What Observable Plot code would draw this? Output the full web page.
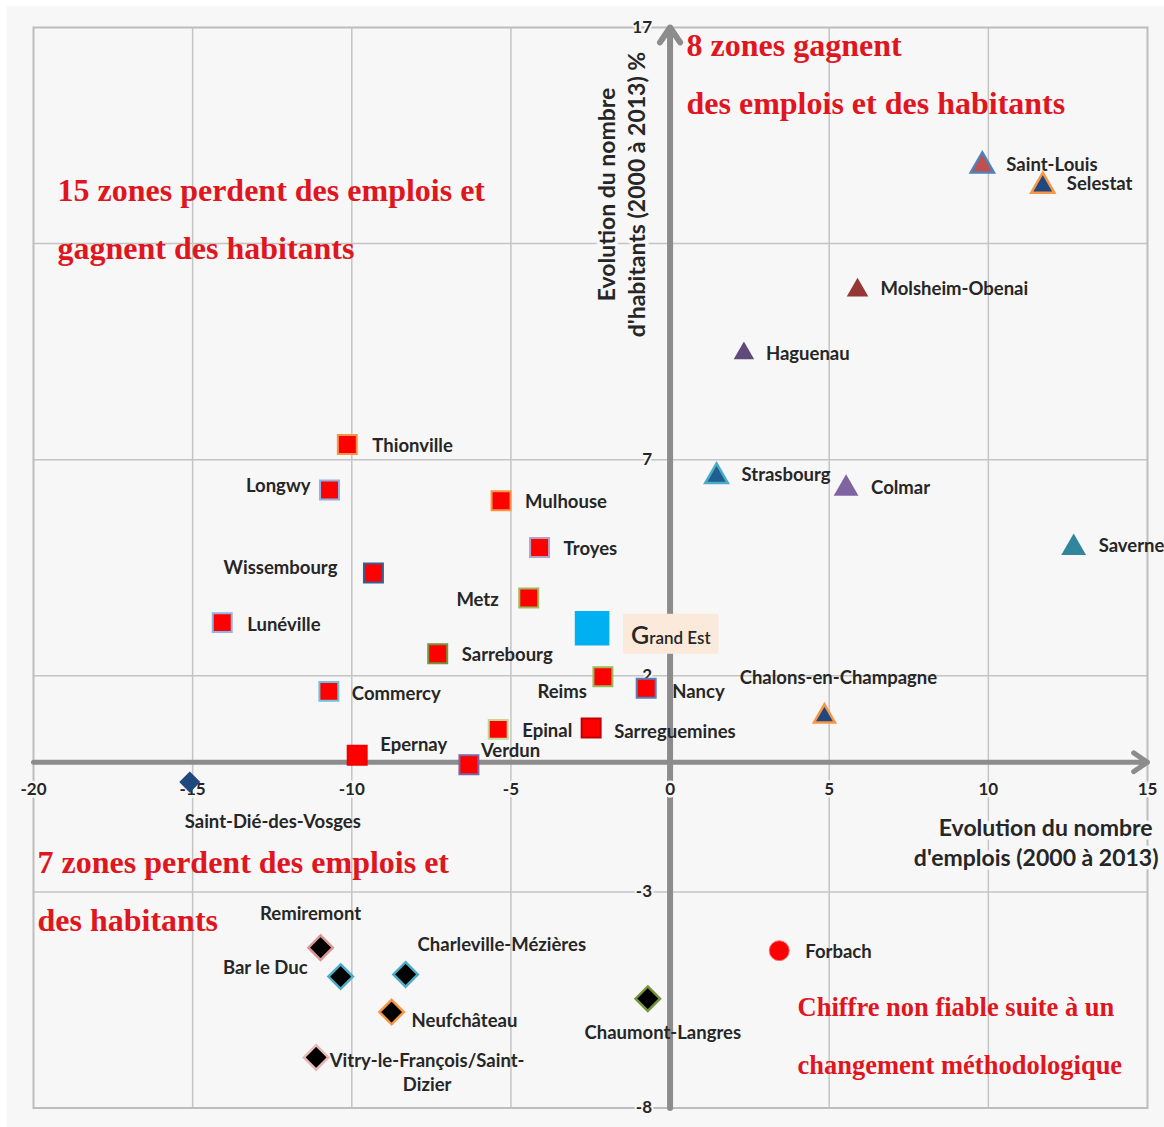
<!DOCTYPE html>
<html>
<head>
<meta charset="utf-8">
<script src="https://cdn.jsdelivr.net/npm/d3@7"></script>
<script src="https://cdn.jsdelivr.net/npm/@observablehq/plot@0.6"></script>
<style>
html, body { margin: 0; padding: 0; background: #ffffff; overflow: hidden; }
#wrap { position: relative; width: 1164px; height: 1127px; }
#panel { position: absolute; left: 7px; top: 6px; right: 0; bottom: 0; background: #f7f7f7; }
#chart { position: absolute; left: 0; top: 0; }
</style>
</head>
<body>
<div id="wrap"><div id="panel"></div><div id="chart"></div></div>
<script>
// ---------- DATA ----------
const zones = ["Saint-Louis", "Selestat", "Molsheim-Obenai", "Haguenau", "Strasbourg", "Colmar", "Saverne",
  "Chalons-en-Champagne", "Thionville", "Longwy", "Mulhouse", "Troyes", "Wissembourg", "Metz", "Lunéville",
  "Grand Est", "Sarrebourg", "Reims", "Nancy", "Commercy", "Epinal", "Sarreguemines", "Epernay", "Verdun",
  "Saint-Dié-des-Vosges", "Remiremont", "Bar le Duc", "Charleville-Mézières", "Neufchâteau",
  "Vitry-le-François/Saint-Dizier", "Chaumont-Langres", "Forbach"];
// Evolution du nombre d'emplois (2000 à 2013), %
const emplois = [9.81, 11.71, 5.89, 2.32, 1.46, 5.53, 12.68,
  4.85, -10.14, -10.70, -5.31, -4.10, -9.32, -4.44, -14.07,
  -2.45, -7.30, -2.11, -0.75, -10.72, -5.40, -2.48, -9.83, -6.32,
  -15.09, -10.98, -10.35, -8.31, -8.75,
  -11.12, -0.70, 3.43];
// Evolution du nombre d'habitants (2000 à 2013), %
const habitants = [13.80, 13.33, 10.92, 9.46, 6.61, 6.33, 4.96,
  1.06, 7.35, 6.30, 6.05, 4.97, 4.38, 3.80, 3.23,
  3.10, 2.51, 1.98, 1.71, 1.64, 0.76, 0.79, 0.16, -0.06,
  -0.46, -4.29, -4.96, -4.91, -5.78,
  -6.83, -5.47, -4.36];

const xDomain = [-20, 15];
const yDomain = [-8, 17];
const xTicks = [-20, -15, -10, -5, 0, 5, 10, 15];
const yTicks = [17, 7, 2, -3, -8];
const xGrid = [-15, -10, -5, 5, 10];
const yGrid = [12, 7, 2, -3];

const yTitle = "Evolution du nombre\nd'habitants (2000 à 2013) %";
const xTitle1 = "Evolution du nombre";
const xTitle2 = "d'emplois (2000 à 2013)";
const notes = [
  "8 zones gagnent", "des emplois et des habitants",
  "15 zones perdent des emplois et", "gagnent des habitants",
  "7 zones perdent des emplois et", "des habitants",
  "Chiffre non fiable suite à un", "changement méthodologique"
];

// ---------- STYLES (marker look and label placement) ----------
const RED = "#ff0000";
const sq = (stroke, lab) => ({symbol: "square", r: 10.7, fill: RED, stroke, sw: 2, lab});
const tri = (fill, stroke, r, lab) => ({symbol: "triangle", r, fill, stroke, sw: stroke ? 2.5 : 0, lab});
const dia = (stroke, lab) => ({symbol: "diamond2", r: 11, fill: "#000000", stroke, sw: 2.5, lab});
const styles = {
  "Saint-Louis": tri("#c0504d", "#4f81bd", 8.6, [24, -2, "start"]),
  "Selestat": tri("#1f497d", "#f79646", 8.6, [24, -3.5, "start"]),
  "Molsheim-Obenai": tri("#953735", null, 8, [23, -3, "start"]),
  "Haguenau": tri("#604a7b", null, 7.6, [22, -1, "start"]),
  "Strasbourg": tri("#1f5f8f", "#4bacc6", 8.4, [25, -3, "start"]),
  "Colmar": tri("#8064a2", null, 9.2, [25, -2.5, "start"]),
  "Saverne": tri("#31859c", null, 9.2, [25, -3, "start"]),
  "Chalons-en-Champagne": tri("#1f497d", "#f79646", 7.8, [14, -40, "middle"]),
  "Thionville": sq("#f79646", [25, 0, "start"]),
  "Longwy": sq("#8eb4e3", [-19, -5, "end"]),
  "Mulhouse": sq("#f79646", [24, 0, "start"]),
  "Troyes": sq("#b3a2c7", [24, 0, "start"]),
  "Wissembourg": sq("#376092", [-36, -6, "end"]),
  "Metz": sq("#9bbb59", [-30, 0, "end"]),
  "Lunéville": sq("#8eb4e3", [25, 1, "start"]),
  "Grand Est": {symbol: "square", r: 19.5, fill: "#00b0f0", stroke: null, sw: 0, lab: [39, 8, "start"]},
  "Sarrebourg": sq("#77933c", [24, 0, "start"]),
  "Reims": sq("#9bbb59", [-16, 14, "end"]),
  "Nancy": sq("#4f81bd", [26, 2, "start"]),
  "Commercy": sq("#6cc3e0", [23, 1, "start"]),
  "Epinal": sq("#c3d69b", [24, 0, "start"]),
  "Sarreguemines": sq("#c00000", [23, 2, "start"]),
  "Epernay": sq("#f00000", [23, -12, "start"]),
  "Verdun": sq("#8064a2", [12, -15, "start"]),
  "Saint-Dié-des-Vosges": {symbol: "diamond2", r: 9.5, fill: "#1f497d", stroke: null, sw: 0, lab: [83, 38, "middle"]},
  "Remiremont": dia("#d99694", [-10, -35, "middle"]),
  "Bar le Duc": dia("#4bacc6", [-33, -10, "end"]),
  "Charleville-Mézières": dia("#4bacc6", [12, -31, "start"]),
  "Neufchâteau": dia("#f79646", [20, 7, "start"]),
  "Vitry-le-François/Saint-Dizier": {...dia("#e6b9b8", [111, 14, "middle"]), text: "Vitry-le-François/Saint-\nDizier"},
  "Chaumont-Langres": dia("#77933c", [15, 33, "middle"]),
  "Forbach": {symbol: "circle", r: 10, fill: RED, stroke: "#ff7070", sw: 1, lab: [26, 0, "start"]}
};

const table = zones.map((z, i) => ({zone: z, x: emplois[i], y: habitants[i]}));

const M = {left: 33, top: 27, right: 17, bottom: 19.5};
const SANS = "Lato, 'Open Sans', sans-serif";
const SERIF = "'Liberation Serif', 'Times New Roman', serif";
const BG = "#f7f7f7";
const AXIS = "#8c8c8c";
const TXT = "#262626";
const NOTE = "#e0161e";
const LABEL_SIZE = 18.5;

const marks = [
  Plot.gridX(xGrid, {stroke: "#c4c4c4", strokeOpacity: 1, strokeWidth: 1.5}),
  Plot.gridY(yGrid, {stroke: "#c4c4c4", strokeOpacity: 1, strokeWidth: 1.5}),
  Plot.frame({stroke: "#bdbdbd", strokeWidth: 2}),
  // axes with arrows
  Plot.arrow([{}], {x1: () => xDomain[0], x2: () => xDomain[1], y1: () => 0, y2: () => 0,
    stroke: AXIS, strokeWidth: 5, headLength: 5, headAngle: 68}),
  Plot.arrow([{}], {x1: () => 0, x2: () => 0, y1: () => yDomain[0], y2: () => yDomain[1],
    stroke: AXIS, strokeWidth: 6, headLength: 4.5, headAngle: 68}),
  // tick labels
  Plot.text(xTicks, {x: d => d, y: () => 0, text: d => String(d), dy: 27,
    fontFamily: SANS, fontWeight: "bold", fontSize: 17, fill: TXT, stroke: BG, strokeWidth: 5}),
  Plot.text(yTicks, {x: () => 0, y: d => d, text: d => String(d), dx: -18, textAnchor: "end",
    fontFamily: SANS, fontWeight: "bold", fontSize: 17, fill: TXT, stroke: BG, strokeWidth: 4}),
  // axis titles
  Plot.text([yTitle], {frameAnchor: "top-left", dx: 620 - M.left, dy: 194 - M.top, rotate: -90,
    textAnchor: "middle", lineAnchor: "middle", lineHeight: 1.3,
    fontFamily: SANS, fontWeight: "bold", fontSize: 23, fill: TXT, stroke: BG, strokeWidth: 7}),
  Plot.text([xTitle1], {frameAnchor: "top-left", dx: 1152 - M.left, dy: 828 - M.top, textAnchor: "end",
    lineAnchor: "middle", fontFamily: SANS, fontWeight: "bold", fontSize: 23, fill: TXT, stroke: BG, strokeWidth: 7}),
  Plot.text([xTitle2], {frameAnchor: "top-left", dx: 1158 - M.left, dy: 858 - M.top, textAnchor: "end",
    lineAnchor: "middle", fontFamily: SANS, fontWeight: "bold", fontSize: 23, fill: TXT, stroke: BG, strokeWidth: 7})
];

// markers
for (const d of table) {
  const s = styles[d.zone];
  marks.push(Plot.dot([d], {x: "x", y: "y", symbol: s.symbol, r: s.r, fill: s.fill,
    stroke: s.stroke || "none", strokeWidth: s.sw}));
}
// labels
for (const d of table) {
  const s = styles[d.zone];
  const [dx, dy, anchor] = s.lab;
  marks.push(Plot.text([d], {x: "x", y: "y", text: () => s.text || d.zone, dx, dy, textAnchor: anchor,
    lineAnchor: "middle", lineHeight: 1.27, fontFamily: SANS, fontWeight: "bold", fontSize: LABEL_SIZE, fill: TXT}));
}
// red annotations (left x, baseline y in px, font size)
const notePos = [[686, 55, 32], [686, 113, 32], [57, 200, 32], [57, 258, 32], [37, 872, 32], [37, 930, 32],
  [797, 1015, 26.5], [797, 1073, 26.5]];
notes.forEach((t, i) => {
  const [px, py, fs] = notePos[i];
  marks.push(Plot.text([t], {frameAnchor: "top-left", dx: px - M.left, dy: py - M.top, textAnchor: "start",
    lineAnchor: "bottom", fontFamily: SERIF, fontWeight: "bold", fontSize: fs, fill: NOTE}));
});

const chart = Plot.plot({
  width: 1164, height: 1127,
  marginLeft: M.left, marginTop: M.top, marginRight: M.right, marginBottom: M.bottom,
  x: {domain: xDomain, axis: null},
  y: {domain: yDomain, axis: null},
  style: {background: "transparent", overflow: "hidden"},
  marks
});
document.getElementById("chart").append(chart);

// "Grand Est" label: larger initial, beige box behind
const ns = "http://www.w3.org/2000/svg";
const ge = [...chart.querySelectorAll("text")].find(t => t.textContent === "Grand Est");
if (ge) {
  ge.textContent = "";
  const t1 = document.createElementNS(ns, "tspan");
  t1.setAttribute("font-size", "25"); t1.setAttribute("font-weight", "600"); t1.textContent = "G";
  const t2 = document.createElementNS(ns, "tspan");
  t2.setAttribute("font-size", "17"); t2.setAttribute("font-weight", "600"); t2.textContent = "rand Est";
  ge.append(t1, t2);
  const bb = ge.getBBox();
  const r = document.createElementNS(ns, "rect");
  r.setAttribute("x", bb.x - 8);
  r.setAttribute("width", bb.width + 15);
  r.setAttribute("y", bb.y + bb.height / 2 - 20);
  r.setAttribute("height", 40);
  r.setAttribute("fill", "#fbeadb");
  r.setAttribute("stroke", "none");
  if (ge.getAttribute("transform")) r.setAttribute("transform", ge.getAttribute("transform"));
  ge.parentNode.insertBefore(r, ge);
}
</script>
</body>
</html>
